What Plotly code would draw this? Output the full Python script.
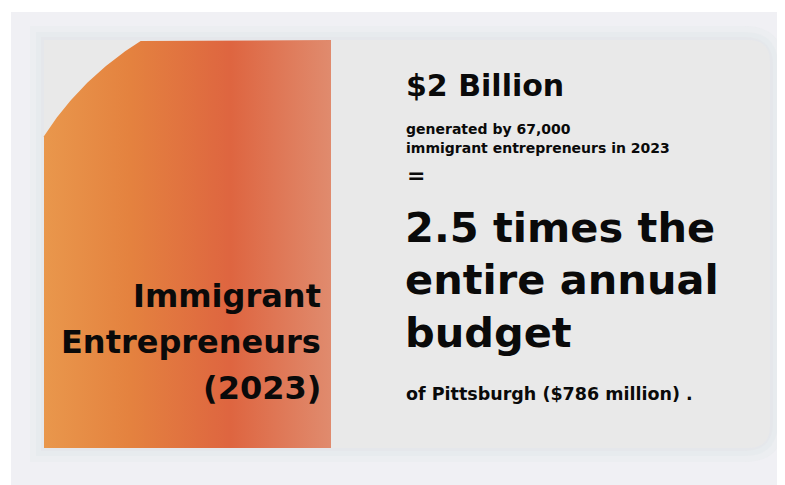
import numpy as np
import plotly.graph_objects as go

W, H = 785, 485
OFF = 8  # page body margin

# ---- content ----
headline = "$2 Billion"
sub_lines = ["generated by 67,000", "immigrant entrepreneurs in 2023"]
equals = "="
big_lines = ["2.5 times the", "entire annual", "budget"]
footer = "of Pittsburgh ($786 million) ."
side_lines = ["Immigrant", "Entrepreneurs", "(2023)"]

gradient_scale = [[0.0, "#e9974c"], [0.3, "#e4823f"], [0.65, "#de6540"], [1.0, "#e08b6e"]]

FONT = "DejaVu Sans"

fig = go.Figure()

def rounded(x0, x1, y0, y1, r):
    return (f"M{x0},{y0} L{x1 - r},{y0} Q{x1},{y0} {x1},{y0 + r} "
            f"L{x1},{y1 - r} Q{x1},{y1} {x1 - r},{y1} L{x0},{y1} Z")

shapes = [
    dict(type="rect", x0=11, x1=W + 20, y0=12, y1=H + 20, fillcolor="#f0f0f4", line_width=0, layer="below"),
]
for pad, col in [(14, "rgba(232,235,238,0.5)"), (8, "rgba(230,233,236,0.7)"), (3, "rgba(228,231,234,0.9)")]:
    shapes.append(dict(type="path", path=rounded(44 - pad, 770 + pad, 40 - pad, 448 + pad, 26 + pad),
                       fillcolor=col, line_width=0, layer="below"))
shapes.append(dict(type="path", path=rounded(44, 770, 40, 448, 22),
                   fillcolor="#e9e9e9", line_width=0, layer="below"))

# orange panel with arc-cut corner (gradient fill)
cx, cy, R = 300, 300, 304
a0 = np.arctan2(137 - cy, 44 - cx)
a1 = np.arctan2(40 - cy, 140 - cx)
ang = np.linspace(a0, a1, 60)
px = list(cx + R * np.cos(ang)) + [331, 331, 44, 44]
py = list(cy + R * np.sin(ang)) + [40, 448, 448, 137]
fig.add_trace(go.Scatter(
    x=px, y=py, mode="lines", fill="toself", line=dict(width=0),
    fillgradient=dict(type="horizontal", colorscale=gradient_scale, start=44, stop=331),
    hoverinfo="skip", showlegend=False,
))

ann = []
def txt(s, x, y, size, anchor="left"):
    ann.append(dict(text=s, x=x, y=y, xref="x", yref="y", showarrow=False,
                    xanchor=anchor, yanchor="middle",
                    font=dict(family=FONT, size=size, color="#0a0a0a", weight="bold")))

txt(headline, 404, 85, 30)
for i, s in enumerate(sub_lines):
    txt(s, 404, 129 + i * 19, 14)
txt(equals, 405, 175, 22)
for i, s in enumerate(big_lines):
    txt(s, 403, 227 + i * 52.5, 41.5)
txt(footer, 404, 394, 17.5)
for i, s in enumerate(side_lines):
    txt(s, 323, 296 + i * 46, 32, anchor="right")

fig.update_layout(
    width=W, height=H, margin=dict(l=0, r=0, t=0, b=0),
    paper_bgcolor="white", plot_bgcolor="white",
    xaxis=dict(range=[OFF, W + OFF], visible=False, fixedrange=True),
    yaxis=dict(range=[H + OFF, OFF], visible=False, fixedrange=True),
    shapes=shapes, annotations=ann, showlegend=False,
)
fig.write_html("out.html")
